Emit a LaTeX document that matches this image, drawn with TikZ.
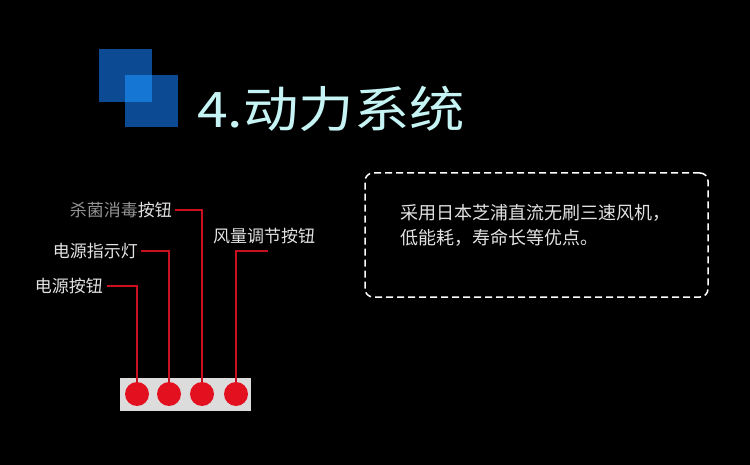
\documentclass[tikz,border=0pt]{standalone}
\usepackage{fontspec}
\newfontfamily\cjk{Noto Sans CJK SC}
\usetikzlibrary{positioning}

\definecolor{btnred}{HTML}{E3101F}
\definecolor{leadred}{HTML}{C8101E}
\definecolor{sqdark}{HTML}{0C4A94}
\definecolor{sqlight}{HTML}{1576D4}
\definecolor{titlecyan}{HTML}{C6F4F4}
\definecolor{panelgray}{HTML}{DCDCDC}
\definecolor{labelgray}{HTML}{E2E2E2}

\tikzset{
	lbl/.style={inner sep=0pt, text=labelgray, font=\cjk\fontsize{17}{17}\selectfont},
	lead/.style={draw=leadred, line width=1.2pt},
	btn/.style={circle, fill=btnred, minimum size=24pt, inner sep=0pt},
}

\begin{document}
\begin{tikzpicture}[x=1pt, y=-1pt]
		% background
		\fill[black] (0,0) rectangle (750,465);

		% logo squares
		\fill[sqdark] (99,49) rectangle (152,102);
		\fill[sqdark] (125,75) rectangle (178,127);
		\fill[sqlight] (125,75) rectangle (152,102);

		% title
		\node[anchor=base west, inner sep=0pt, text=titlecyan,
			font=\cjk\fontsize{49}{49}\selectfont] (title) at (197,128)
			{\scalebox{1.13}[1]{4.动力系统}};

		% button panel
		\node[fill=panelgray, minimum width=131pt, minimum height=33pt, inner sep=0pt] (panel) at (185.5,394.5) {};
		\node[btn] (b1) at (137,394) {};
		\node[btn] (b2) at (169,394) {};
		\node[btn] (b3) at (202,394) {};
		\node[btn] (b4) at (236,394) {};

		% labels
		\node[lbl, anchor=east] (l-kill) at (172,210) {{\color{labelgray!65!black}杀菌消毒}按钮};
		\node[lbl, anchor=east] (l-lamp) at (138,251) {电源指示灯};
		\node[lbl, anchor=east] (l-power) at (103,286) {电源按钮};
		\node[lbl, anchor=west] (l-fan) at (213,236) {风量调节按钮};
		\coordinate (fan-end) at (268,251);

		% leads
		\draw[lead] ([xshift=3pt]l-kill.east) -| (b3.north);
		\draw[lead] ([xshift=3pt]l-lamp.east) -| (b2.north);
		\draw[lead] ([xshift=4pt]l-power.east) -| (b1.north);
		\draw[lead] (fan-end) -| (b4.north);

		% spec box
		\node[draw=white, dashed, dash pattern=on 7pt off 4pt, rounded corners=8pt, line width=1.5pt,
			minimum width=343pt, minimum height=124pt, inner sep=0pt] (spec) at (536.5,235) {};
		\node[anchor=base west, align=left, inner sep=0pt, text=labelgray,
			font=\cjk\fontsize{18}{25}\selectfont] (spec-text) at (400,245)
			{采用日本芝浦直流无刷三速风机，\\低能耗，寿命长等优点。};
\end{tikzpicture}
\end{document}
